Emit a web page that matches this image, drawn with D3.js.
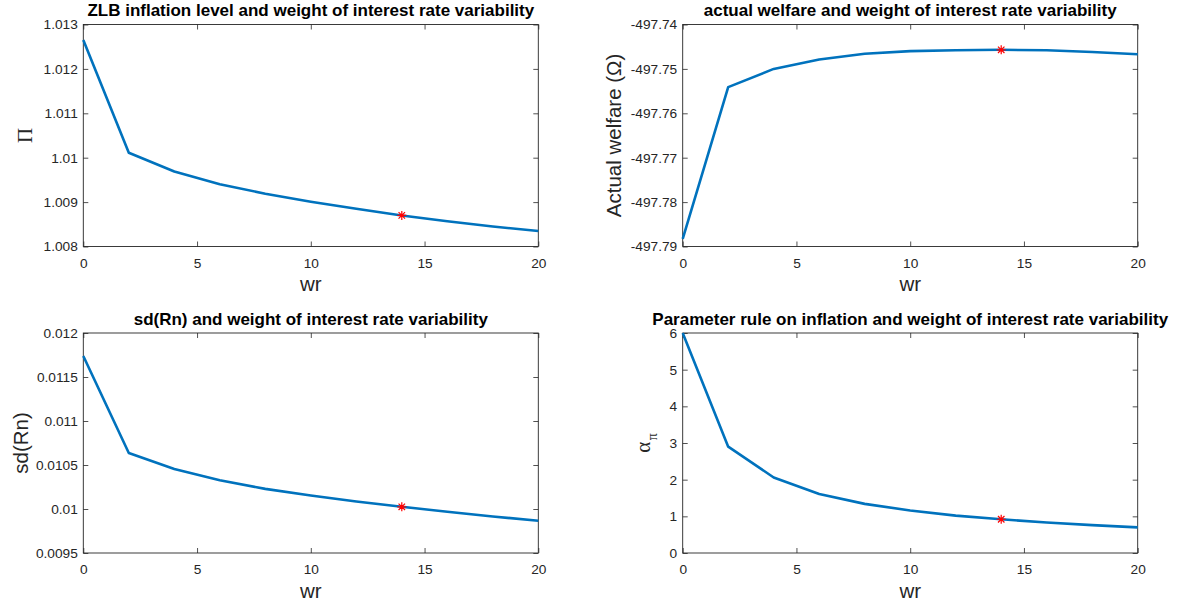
<!DOCTYPE html>
<html>
<head>
<meta charset="utf-8">
<script src="https://cdn.jsdelivr.net/npm/d3@7"></script>
<style>
  html, body { margin: 0; padding: 0; background: #fff; }
  svg { display: block; }
  .tick text { font-family: "Liberation Sans", Arial, sans-serif; font-size: 13.7px; fill: #262626; }
  .tick line { stroke: #262626; stroke-width: 0.8; }
</style>
</head>
<body>
<svg id="fig" width="1181" height="602"></svg>
<script>
// Weight on interest-rate variability (wr) and the resulting outcomes
const wr = [0, 2, 4, 6, 8, 10, 12, 14, 16, 18, 20];
const zlbInflation = [1.01265, 1.01011, 1.00969, 1.00940, 1.00919, 1.00901, 1.00885, 1.00870, 1.00857, 1.00845, 1.00835];
const actualWelfare = [-497.7883, -497.7541, -497.7500, -497.7479, -497.7466, -497.7460, -497.7458, -497.7457, -497.7458, -497.7462, -497.7467];
const sdRn = [0.011739, 0.010637, 0.010455, 0.010327, 0.010229, 0.010153, 0.010085, 0.010025, 0.009968, 0.009915, 0.009866];
const alphaPi = [6.0, 2.90, 2.06, 1.61, 1.34, 1.16, 1.02, 0.92, 0.83, 0.76, 0.70];
const chosenWr = 14;

// Axis ticks
const xTicks = [0, 5, 10, 15, 20];
const inflationTicks = [1.008, 1.009, 1.01, 1.011, 1.012, 1.013];
const welfareTicks = [-497.79, -497.78, -497.77, -497.76, -497.75, -497.74];
const sdTicks = [0.0095, 0.01, 0.0105, 0.011, 0.0115, 0.012];
const alphaTicks = [0, 1, 2, 3, 4, 5, 6];

// Titles
const titles = [
  "ZLB inflation level and weight of interest rate variability",
  "actual welfare and weight of interest rate variability",
  "sd(Rn) and weight of interest rate variability",
  "Parameter rule on inflation and weight of interest rate variability"
];

// Subplot boxes
const colX = [[83.3, 538.3], [682.7, 1137.7]];
const rowY = [[24.5, 246.5], [333, 553]];

const panels = [
  { col: 0, row: 0, values: zlbInflation, ticks: inflationTicks, title: titles[0], ylabel: "pi" },
  { col: 1, row: 0, values: actualWelfare, ticks: welfareTicks, title: titles[1], ylabel: "welfare" },
  { col: 0, row: 1, values: sdRn, ticks: sdTicks, title: titles[2], ylabel: "sd" },
  { col: 1, row: 1, values: alphaPi, ticks: alphaTicks, title: titles[3], ylabel: "alpha" }
];

const svg = d3.select("#fig");
const lineColor = "#0072BD";
const axisColor = "#262626";
const tickLen = 5;

panels.forEach(p => {
  const [x0, x1] = colX[p.col];
  const [y0, y1] = rowY[p.row];
  const x = d3.scaleLinear().domain([0, 20]).range([x0, x1]);
  const y = d3.scaleLinear().domain([p.ticks[0], p.ticks[p.ticks.length - 1]]).range([y1, y0]);
  const g = svg.append("g");

  // axes with inward ticks on all four sides
  const fmt = v => String(v);
  g.append("g").attr("transform", `translate(0,${y1})`)
    .call(d3.axisBottom(x).tickValues(xTicks).tickFormat(fmt).tickSizeInner(-tickLen).tickSizeOuter(0).tickPadding(11.5))
    .call(s => s.select(".domain").remove());
  g.append("g").attr("transform", `translate(0,${y0})`)
    .call(d3.axisTop(x).tickValues(xTicks).tickFormat("").tickSizeInner(-tickLen).tickSizeOuter(0))
    .call(s => s.select(".domain").remove());
  g.append("g").attr("transform", `translate(${x0},0)`)
    .call(d3.axisLeft(y).tickValues(p.ticks).tickFormat(fmt).tickSizeInner(-tickLen).tickSizeOuter(0).tickPadding(5.5))
    .call(s => s.select(".domain").remove());
  g.append("g").attr("transform", `translate(${x1},0)`)
    .call(d3.axisRight(y).tickValues(p.ticks).tickFormat("").tickSizeInner(-tickLen).tickSizeOuter(0))
    .call(s => s.select(".domain").remove());
  g.selectAll(".tick text").attr("fill", axisColor);

  // box
  g.append("rect")
    .attr("x", x0).attr("y", y0).attr("width", x1 - x0).attr("height", y1 - y0)
    .attr("fill", "none").attr("stroke", axisColor).attr("stroke-width", 0.9);

  // data line
  const line = d3.line().x((d, i) => x(wr[i])).y(d => y(d));
  g.append("path").datum(p.values)
    .attr("d", line)
    .attr("fill", "none")
    .attr("stroke", lineColor)
    .attr("stroke-width", 2.6)
    .attr("stroke-linejoin", "round");

  // asterisk marker at the chosen weight
  const k = wr.indexOf(chosenWr);
  const mx = x(wr[k]), my = y(p.values[k]);
  const r = 4.5, rd = r * 0.72;
  const star = d3.path();
  star.moveTo(mx - r, my); star.lineTo(mx + r, my);
  star.moveTo(mx, my - r); star.lineTo(mx, my + r);
  star.moveTo(mx - rd, my - rd); star.lineTo(mx + rd, my + rd);
  star.moveTo(mx - rd, my + rd); star.lineTo(mx + rd, my - rd);
  g.append("path").attr("d", star.toString())
    .attr("stroke", "#ff0000").attr("stroke-width", 1.2).attr("fill", "none");

  // title
  g.append("text")
    .attr("x", (x0 + x1) / 2).attr("y", y0 - 8.5)
    .attr("text-anchor", "middle")
    .attr("font-family", "Liberation Sans, Arial, sans-serif")
    .attr("font-weight", "bold").attr("font-size", 17)
    .attr("fill", "#000")
    .text(p.title);

  // x label
  g.append("text")
    .attr("x", (x0 + x1) / 2).attr("y", y1 + 44.5)
    .attr("text-anchor", "middle")
    .attr("font-family", "Liberation Sans, Arial, sans-serif")
    .attr("font-size", 20.5).attr("fill", axisColor)
    .text("wr");

  // y label
  const cy = (y0 + y1) / 2;
  if (p.ylabel === "pi") {
    g.append("text")
      .attr("transform", `translate(${x0 - 51},${cy}) rotate(-90)`)
      .attr("text-anchor", "middle")
      .attr("font-family", "Liberation Serif, Times New Roman, serif")
      .attr("font-size", 21).attr("fill", axisColor)
      .text("Π");
  } else if (p.ylabel === "welfare") {
    g.append("text")
      .attr("transform", `translate(${x0 - 62},${cy}) rotate(-90)`)
      .attr("text-anchor", "middle")
      .attr("font-family", "Liberation Sans, Arial, sans-serif")
      .attr("font-size", 20.5).attr("fill", axisColor)
      .text("Actual welfare (Ω)");
  } else if (p.ylabel === "sd") {
    g.append("text")
      .attr("transform", `translate(${x0 - 55},${cy}) rotate(-90)`)
      .attr("text-anchor", "middle")
      .attr("font-family", "Liberation Sans, Arial, sans-serif")
      .attr("font-size", 20.5).attr("fill", axisColor)
      .text("sd(Rn)");
  } else {
    const t = g.append("text")
      .attr("transform", `translate(${x0 - 33},${cy}) rotate(-90)`)
      .attr("text-anchor", "middle")
      .attr("font-family", "Liberation Serif, Times New Roman, serif")
      .attr("fill", axisColor);
    t.append("tspan").attr("font-size", 21).text("α");
    t.append("tspan").attr("font-size", 14).attr("dy", 7).attr("dx", 1.5).text("π");
  }
});
</script>
</body>
</html>
